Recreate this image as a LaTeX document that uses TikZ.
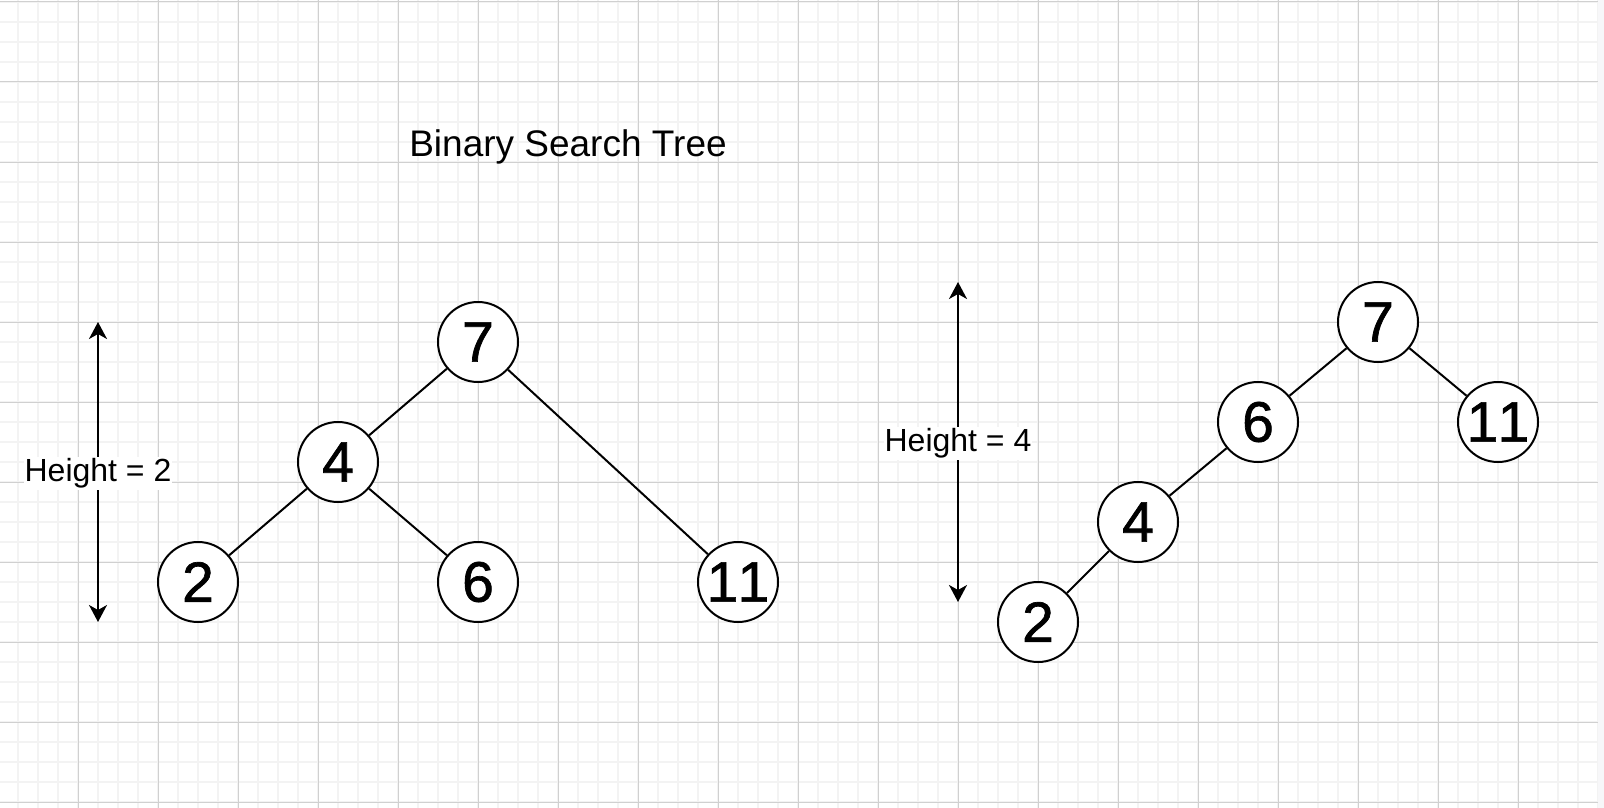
\documentclass[tikz,border=0pt]{standalone}
\usepackage{fontspec}
\setmainfont{Liberation Sans}
\newfontfamily\digitfont[FakeBold=1.2, LetterSpace=6]{Liberation Sans}
\usepackage{xcolor}
\usetikzlibrary{arrows.meta}
\definecolor{minorgrid}{HTML}{F3F3F3}
\definecolor{majorgrid}{HTML}{D0D0D0}
\definecolor{sidestrip}{HTML}{F7F7F9}
\begin{document}
\begin{tikzpicture}[x=1pt, y=-1pt, tree node/.style={circle, draw, line width=2pt, minimum size=80pt, inner sep=0pt, fill=white, font=\fontsize{57}{57}\digitfont}, tree edge/.style={line width=2pt}, height arrow/.style={line width=2pt, {Stealth[length=17pt,width=18pt,inset=5pt]}-{Stealth[length=17pt,width=18pt,inset=5pt]}}, height label/.style={fill=white, inner xsep=1pt, inner ysep=2pt, font=\fontsize{32}{32}\selectfont}]
\useasboundingbox (0,0) rectangle (1604,808);
\fill[white] (0,0) rectangle (1604,808);
% grid
\foreach \gx in {18,38,...,1598} \draw[minorgrid, line width=2pt] (\gx,0) -- (\gx,808);
\foreach \gy in {2,22,...,802} \draw[minorgrid, line width=2pt] (0,\gy) -- (1598,\gy);
\foreach \gx in {78,158,...,1598} \draw[majorgrid, line width=1pt] (\gx,0) -- (\gx,808);
\foreach \gy in {2,82,...,802} \draw[majorgrid, line width=1pt] (0,\gy) -- (1598,\gy);
\fill[sidestrip] (1598,0) rectangle (1604,808);
\node[anchor=base, font=\fontsize{37}{37}\selectfont] (title) at (568,156) {Binary Search Tree};
% balanced tree
\node[tree node] (l7) at (478,342) {7};
\node[tree node] (l4) at (338,462) {4};
\node[tree node] (l2) at (198,582) {2};
\node[tree node] (l6) at (478,582) {6};
\node[tree node] (l11) at (738,582) {11};
\path[tree edge]
(l7) edge (l4)
(l7) edge (l11)
(l4) edge (l2)
(l4) edge (l6);
% skewed tree
\node[tree node] (r7) at (1378,322) {7};
\node[tree node] (r6) at (1258,422) {6};
\node[tree node] (r11) at (1498,422) {11};
\node[tree node] (r4) at (1138,522) {4};
\node[tree node] (r2) at (1038,622) {2};
\path[tree edge]
(r7) edge (r6)
(r7) edge (r11)
(r6) edge (r4)
(r4) edge (r2);
% heights
\coordinate (lh top) at (98,322);
\coordinate (lh bottom) at (98,622);
\draw[height arrow] (lh top) -- (lh bottom);
\node[height label] (lh) at (98,473.5) {Height = 2};
\coordinate (rh top) at (958,282);
\coordinate (rh bottom) at (958,602);
\draw[height arrow] (rh top) -- (rh bottom);
\node[height label] (rh) at (958,443.5) {Height = 4};
\end{tikzpicture}
\end{document}
